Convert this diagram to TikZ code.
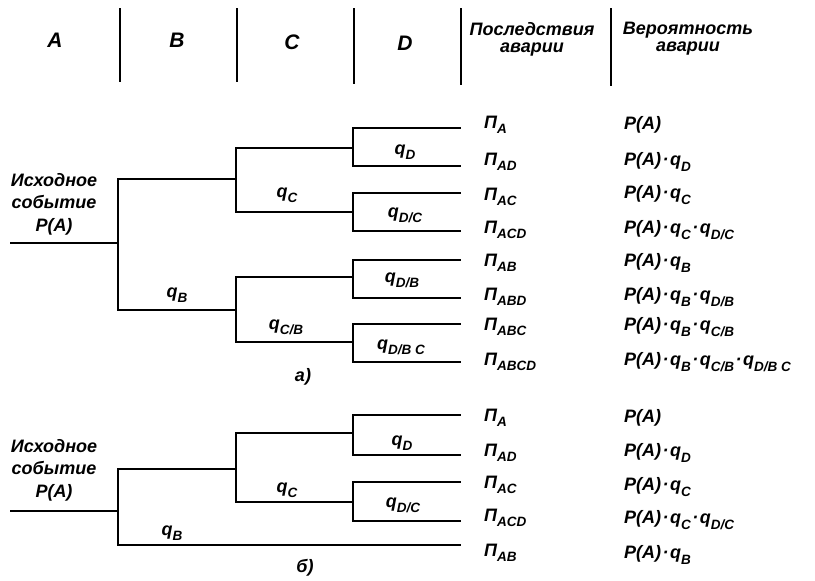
\documentclass[tikz,border=0pt]{standalone}
\usepackage{fontspec}
\setmainfont{Liberation Sans}
\newcommand{\lsub}[1]{\raisebox{-0.3em}{\fontsize{13.5}{13.5}\selectfont #1}}
\newcommand{\pdot}{\hspace{1.5pt}·\hspace{1.5pt}}
\begin{document}
\begin{tikzpicture}[x=1pt,y=-1pt,
  br/.style={line width=2.8pt},
  sep/.style={line width=2.3pt},
  lbl/.style={font=\fontsize{18}{20}\selectfont\bfseries\itshape, inner sep=0pt},
  hd/.style={font=\fontsize{21}{24}\selectfont\bfseries\itshape, inner sep=0pt},
  hdt/.style={font=\fontsize{18}{17}\selectfont\bfseries\itshape, inner sep=0pt, align=center},
  init/.style={font=\fontsize{18}{22.5}\selectfont\bfseries\itshape, inner sep=0pt, align=center},
  pl/.style={lbl, anchor=west},
]
\useasboundingbox (0,0) rectangle (815,581);
% header
\node[hd] (hA) at (55,40) {A};
\node[hd] (hB) at (177,40) {B};
\node[hd] (hC) at (292,42) {C};
\node[hd] (hD) at (405,43) {D};
\node[hdt] (hP) at (532,39) {Последствия\\аварии};
\node[hdt] (hV) at (688,39) {Вероятность\\аварии};
\foreach \i/\x/\b in {1/120/82,2/237/82,3/354/84,4/461/85,5/611/86}{
  \coordinate (vt\i) at (\x,8);
  \coordinate (vb\i) at (\x,\b);
  \draw[sep] (vt\i) -- (vb\i);
}
% ---------- tree a)
\coordinate (a0) at (10,243);
\coordinate (a1) at (118,243);
\coordinate (a2) at (236,179);
\coordinate (a3) at (236,310);
\coordinate (a4) at (353,148);
\coordinate (a5) at (353,212);
\coordinate (a6) at (353,277);
\coordinate (a7) at (353,342);
\foreach \i/\y in {1/128,2/166,3/193,4/231,5/260,6/298,7/324,8/362}{
  \coordinate (ae\i) at (461,\y);
}
\draw[br] (a0) -- (a1);
\draw[br] (a1) |- (a2);
\draw[br] (a1) |- (a3);
\draw[br] (a2) |- (a4);
\draw[br] (a2) |- (a5);
\draw[br] (a3) |- (a6);
\draw[br] (a3) |- (a7);
\draw[br] (a4) |- (ae1);
\draw[br] (a4) |- (ae2);
\draw[br] (a5) |- (ae3);
\draw[br] (a5) |- (ae4);
\draw[br] (a6) |- (ae5);
\draw[br] (a6) |- (ae6);
\draw[br] (a7) |- (ae7);
\draw[br] (a7) |- (ae8);
\node[init] (ia) at (54,204) {Исходное\\событие\\P(A)};
\node[lbl] (qCa) at (287,195) {q\lsub{C}};
\node[lbl] (qDa) at (405,152) {q\lsub{D}};
\node[lbl] (qDCa) at (405,215) {q\lsub{D/C}};
\node[lbl] (qBa) at (177,295) {q\lsub{B}};
\node[lbl] (qDBa) at (402,280) {q\lsub{D/B}};
\node[lbl] (qCBa) at (286,327) {q\lsub{C/B}};
\node[lbl] (qDBCa) at (401,347) {q\lsub{D/B C}};
\node[lbl] (capa) at (303,377) {а)};
\node[pl] (pa1) at (484,125) {П\lsub{A}};
\node[pl] (pa2) at (484,162) {П\lsub{AD}};
\node[pl] (pa3) at (484,197) {П\lsub{AC}};
\node[pl] (pa4) at (484,230) {П\lsub{ACD}};
\node[pl] (pa5) at (484,263) {П\lsub{AB}};
\node[pl] (pa6) at (484,297) {П\lsub{ABD}};
\node[pl] (pa7) at (484,327) {П\lsub{ABC}};
\node[pl] (pa8) at (484,362) {П\lsub{ABCD}};
\node[pl] (ra1) at (624,125) {P(A)};
\node[pl] (ra2) at (624,162) {P(A)\pdot q\lsub{D}};
\node[pl] (ra3) at (624,195) {P(A)\pdot q\lsub{C}};
\node[pl] (ra4) at (624,230) {P(A)\pdot q\lsub{C}\pdot q\lsub{D/C}};
\node[pl] (ra5) at (624,263) {P(A)\pdot q\lsub{B}};
\node[pl] (ra6) at (624,297) {P(A)\pdot q\lsub{B}\pdot q\lsub{D/B}};
\node[pl] (ra7) at (624,327) {P(A)\pdot q\lsub{B}\pdot q\lsub{C/B}};
\node[pl] (ra8) at (624,362) {P(A)\pdot q\lsub{B}\pdot q\lsub{C/B}\pdot q\lsub{D/B C}};
% ---------- tree b)
\coordinate (b0) at (10,511);
\coordinate (b1) at (118,511);
\coordinate (b2) at (236,469);
\coordinate (b3) at (461,545);
\coordinate (b4) at (353,433);
\coordinate (b5) at (353,502);
\foreach \i/\y in {1/415,2/455,3/482,4/521}{
  \coordinate (be\i) at (461,\y);
}
\draw[br] (b0) -- (b1);
\draw[br] (b1) |- (b2);
\draw[br] (b1) |- (b3);
\draw[br] (b2) |- (b4);
\draw[br] (b2) |- (b5);
\draw[br] (b4) |- (be1);
\draw[br] (b4) |- (be2);
\draw[br] (b5) |- (be3);
\draw[br] (b5) |- (be4);
\node[init] (ib) at (54,470) {Исходное\\событие\\P(A)};
\node[lbl] (qDb) at (402,443) {q\lsub{D}};
\node[lbl] (qCb) at (287,490) {q\lsub{C}};
\node[lbl] (qDCb) at (403,505) {q\lsub{D/C}};
\node[lbl] (qBb) at (172,533) {q\lsub{B}};
\node[lbl] (capb) at (305,568) {б)};
\node[pl] (pb1) at (484,418) {П\lsub{A}};
\node[pl] (pb2) at (484,453) {П\lsub{AD}};
\node[pl] (pb3) at (484,485) {П\lsub{AC}};
\node[pl] (pb4) at (484,518) {П\lsub{ACD}};
\node[pl] (pb5) at (484,553) {П\lsub{AB}};
\node[pl] (rb1) at (624,418) {P(A)};
\node[pl] (rb2) at (624,453) {P(A)\pdot q\lsub{D}};
\node[pl] (rb3) at (624,487) {P(A)\pdot q\lsub{C}};
\node[pl] (rb4) at (624,520) {P(A)\pdot q\lsub{C}\pdot q\lsub{D/C}};
\node[pl] (rb5) at (624,555) {P(A)\pdot q\lsub{B}};
\end{tikzpicture}
\end{document}
